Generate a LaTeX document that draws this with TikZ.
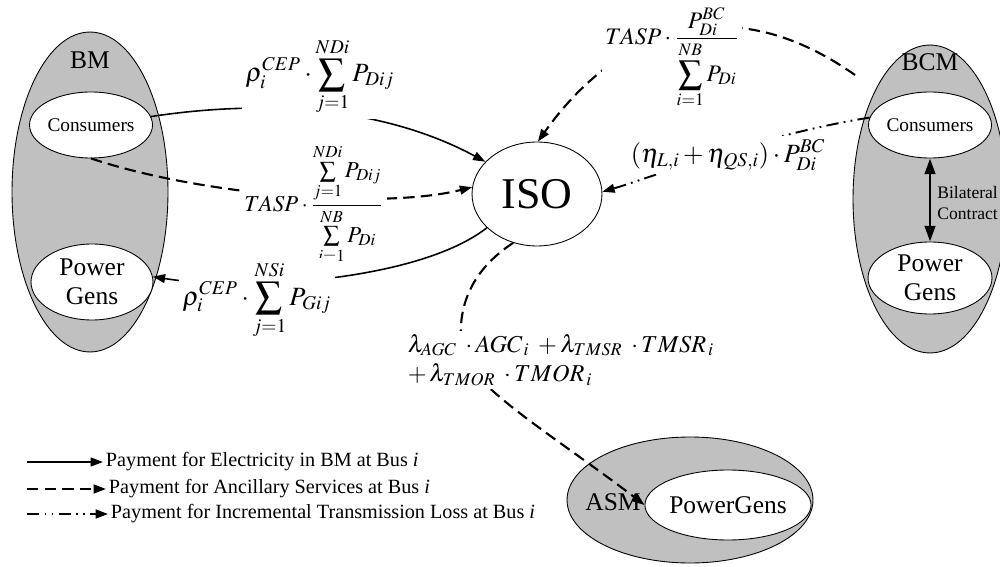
\documentclass[tikz,border=0pt]{standalone}
\usepackage{mathptmx}
\usepackage{fontspec}
\setmainfont{Liberation Serif}
\usetikzlibrary{shapes.geometric,arrows.meta}
\definecolor{mktgray}{RGB}{192,192,192}
\newcommand{\mktfont}{\fontsize{14.5}{16.5}\selectfont}
\newcommand{\eqfont}{\fontsize{13}{16}\selectfont}
\newcommand{\bigeqfont}{\fontsize{15}{18}\selectfont}
\newcommand{\keyfont}{\fontsize{11.5}{14}\selectfont}
\begin{document}
\begin{tikzpicture}[x=0.02cm,y=-0.02cm,
  mkt/.style={ellipse,draw,line width=0.5pt,fill=mktgray,inner sep=0pt},
  grp/.style={ellipse,draw,line width=0.5pt,fill=white,inner sep=0pt,align=center},
  elec/.style={line width=0.9pt,-{Triangle[length=7pt,width=5pt]}},
  anc/.style={elec,line width=1.2pt,dash pattern=on 6.5pt off 3.5pt},
  loss/.style={elec,line width=1.1pt,dash pattern=on 7pt off 3pt on 1pt off 3pt on 1pt off 3pt},
  eqn/.style={fill=white,inner sep=2pt,font=\eqfont},
  keytxt/.style={anchor=west,inner sep=1.5pt,font=\keyfont}]
\clip (0,0) rectangle (1000,567);
\node[mkt,minimum width=3.12cm,minimum height=6.4cm] (bm) at (90,192) {};
\node[font=\mktfont] (bmlbl) at (90,60) {BM};
\node[grp,minimum width=2.44cm,minimum height=1.32cm,font=\fontsize{11}{13}\selectfont] (bmcons) at (91,125) {Consumers};
\node[grp,minimum width=2.44cm,minimum height=1.52cm,font=\mktfont] (bmgens) at (92,282) {Power\\Gens};
\node[mkt,minimum width=3.08cm,minimum height=6.16cm] (bcm) at (930,199) {};
\node[font=\mktfont] (bcmlbl) at (930,62) {BCM};
\node[grp,minimum width=2.44cm,minimum height=1.32cm,font=\fontsize{11}{13}\selectfont] (bcmcons) at (930,125) {Consumers};
\node[grp,minimum width=2.48cm,minimum height=1.44cm,font=\mktfont] (bcmgens) at (930,278) {Power\\Gens};
\draw[line width=1.6pt,{Triangle[length=9pt,width=6pt]}-{Triangle[length=9pt,width=6pt]}] (bcmcons.south) -- (bcmgens.north);
\node[anchor=west,align=left,inner sep=0pt,font=\fontsize{10}{11.5}\selectfont] (bilat) at (937,203) {Bilateral\\Contract};
\node[ellipse,draw,line width=0.5pt,minimum width=2.6cm,minimum height=2.08cm,inner sep=0pt,font=\fontsize{25}{30}\selectfont] (iso) at (537,194) {ISO};
\node[mkt,minimum width=4.92cm,minimum height=2.52cm] (asm) at (690,500) {};
\node[font=\mktfont] (asmlbl) at (613,502) {ASM};
\node[grp,minimum width=3.32cm,minimum height=1.4cm,font=\mktfont] (asmgens) at (728,505) {PowerGens};
\coordinate (bcmtip) at (855,75);
\draw[elec] (bmcons.8) .. controls (260,100) and (380,105) .. (iso.148);
\draw[anc] (bmcons.270) .. controls (200,195) and (380,210) .. (iso.174);
\draw[elec] (iso.214) .. controls (420,280) and (250,292) .. (bmgens.5);
\draw[anc] (bcmtip) .. controls (720,-20) and (610,40) .. (iso.89);
\draw[loss] (bcmcons.173) .. controls (760,135) and (650,178) .. (iso.2);
\draw[anc] (iso.244) .. controls (478,266) and (455,300) .. (462,350) .. controls (468,385) and (560,440) .. (asmgens.west);
\node[eqn,font=\bigeqfont] (pcons) at (320,77) {$\displaystyle\rho_i^{CEP}\cdot\sum_{j=1}^{NDi}P_{Dij}$};
\node[eqn] (tcons) at (314,204) {$\displaystyle TASP\cdot\frac{\sum\limits_{j=1}^{NDi}P_{Dij}}{\sum\limits_{i=1}^{NB}P_{Di}}$};
\node[eqn,font=\bigeqfont] (pgens) at (257,300) {$\displaystyle\rho_i^{CEP}\cdot\sum_{j=1}^{NSi}P_{Gij}$};
\node[eqn,font=\fontsize{13.5}{16}\selectfont] (tbc) at (672,58) {$\displaystyle TASP\cdot\frac{P_{Di}^{BC}}{\displaystyle\sum_{i=1}^{NB}P_{Di}}$};
\node[eqn,font=\bigeqfont] (lbc) at (728,155) {$(\eta_{L,i}+\eta_{QS,i})\cdot P_{Di}^{BC}$};
\node[eqn,align=left,font=\fontsize{13.8}{17}\selectfont] (asc) at (561,360) {$\lambda_{AGC}\;\cdot AGC_{\,i}\;+\lambda_{TMSR}\;\cdot TMSR_{\,i}$\\$+\,\lambda_{TMOR}\;\cdot TMOR_{\,i}$};
\coordinate (k1) at (27,462);
\coordinate (k2) at (27,489);
\coordinate (k3) at (27,514);
\node[keytxt] (t1) at (103,462) {Payment for Electricity in BM at Bus \textit{i}};
\node[keytxt] (t2) at (106,489) {Payment for Ancillary Services at Bus \textit{i}};
\node[keytxt] (t3) at (108,514) {Payment for Incremental Transmission Loss at Bus \textit{i}};
\draw[elec] (k1) -- (t1.west);
\draw[anc] (k2) -- (t2.west);
\draw[loss] (k3) -- (t3.west);
\end{tikzpicture}
\end{document}
